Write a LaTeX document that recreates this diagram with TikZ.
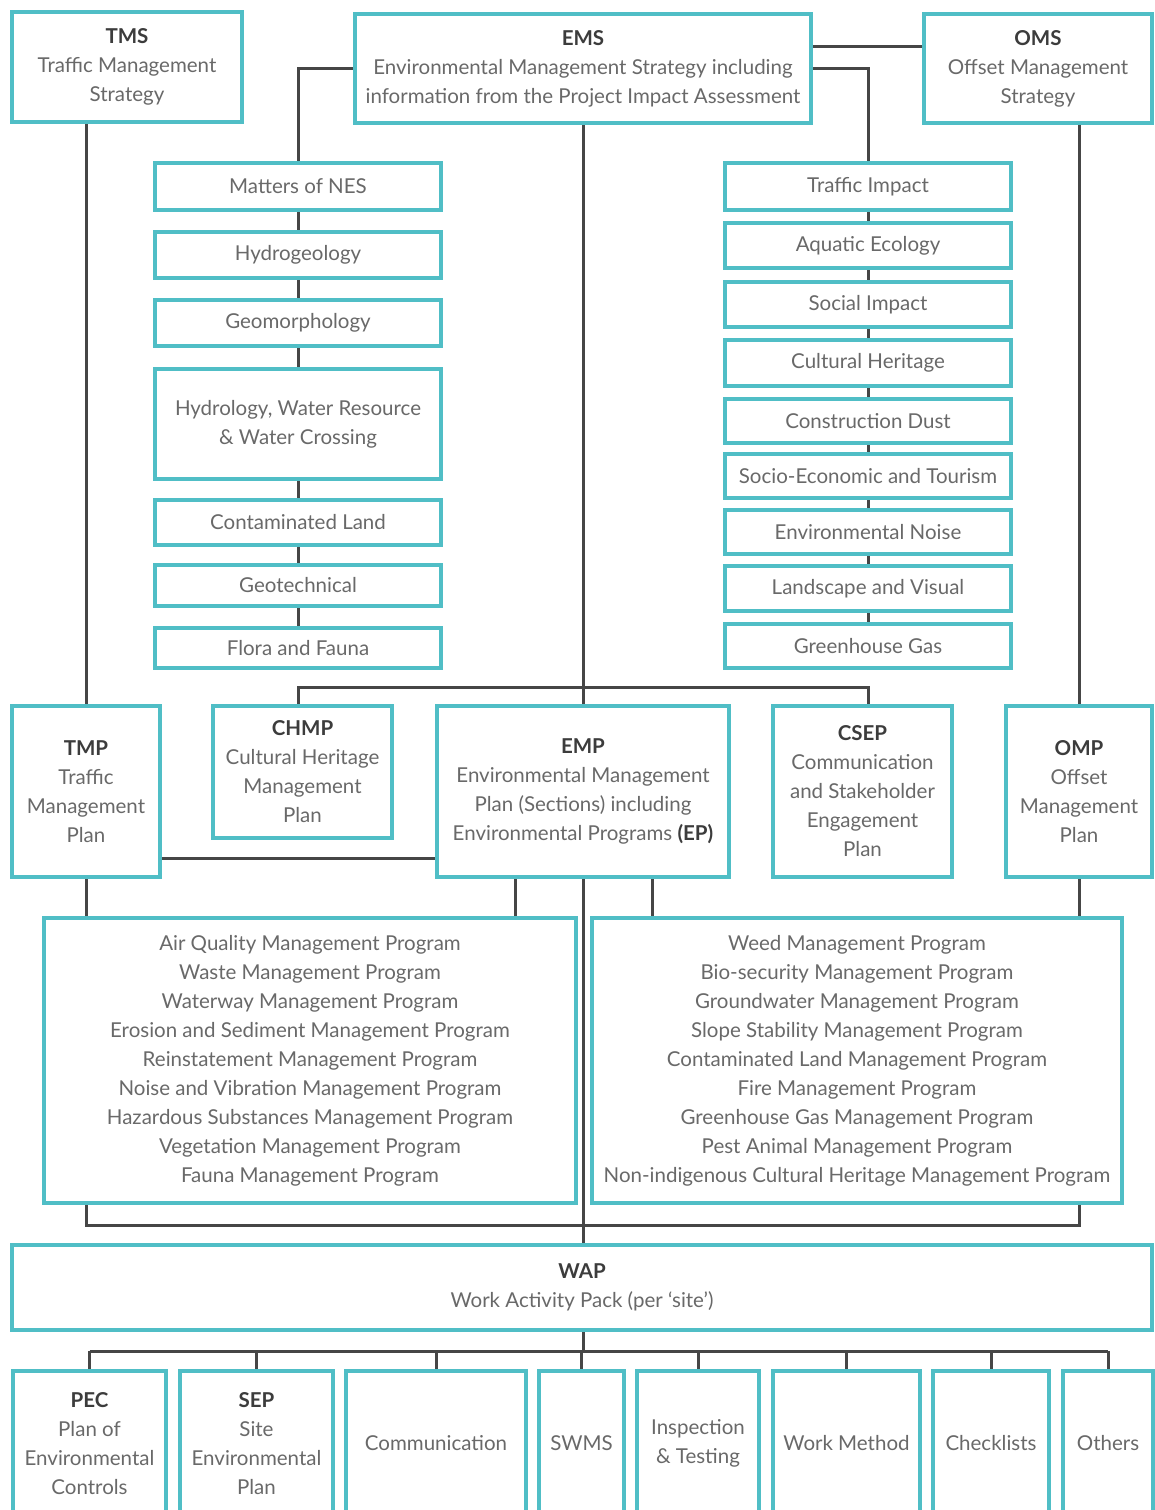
\documentclass[tikz,border=0pt]{standalone}
\usepackage{fontspec}
\setmainfont{Lato}
\usetikzlibrary{backgrounds}
\definecolor{boxteal}{RGB}{80,190,198}
\definecolor{linkgray}{RGB}{70,70,70}
\definecolor{txtgray}{RGB}{105,105,105}
\definecolor{hdgray}{RGB}{60,60,60}
\newcommand{\hd}[1]{\textcolor{hdgray}{\textbf{#1}}}

\begin{document}
\begin{tikzpicture}[x=1pt,y=-1pt,
  box/.style={draw=boxteal,line width=4.5pt,fill=white,text=txtgray,align=center,
    inner sep=0pt,font=\fontsize{20.5}{29}\selectfont},
  link/.style={draw=linkgray,line width=3pt}]
  \useasboundingbox (0,0) rectangle (1154,1510);

  % strategies
  \node[box,minimum width=230pt,minimum height=110pt] (tms) at (127,67) {\hd{TMS}\\Traffic Management\\Strategy};
  \node[box,minimum width=456pt,minimum height=109pt] (ems) at (583,68.5) {\hd{EMS}\\Environmental Management Strategy including\\information from the Project Impact Assessment};
  \node[box,minimum width=228pt,minimum height=109pt] (oms) at (1038,68.5) {\hd{OMS}\\Offset Management\\Strategy};

  % left column
  \node[box,minimum width=286pt,minimum height=47pt] (nes) at (298,186.5) {Matters of NES};
  \node[box,minimum width=286pt,minimum height=46pt] (hydrogeo) at (298,255) {Hydrogeology};
  \node[box,minimum width=286pt,minimum height=46pt] (geomorph) at (298,323) {Geomorphology};
  \node[box,minimum width=286pt,minimum height=110pt] (hydrology) at (298,424) {Hydrology, Water Resource\\\& Water Crossing};
  \node[box,minimum width=286pt,minimum height=45pt] (contam) at (298,522.5) {Contaminated Land};
  \node[box,minimum width=286pt,minimum height=41pt] (geotech) at (298,585.5) {Geotechnical};
  \node[box,minimum width=286pt,minimum height=40pt] (flora) at (298,648) {Flora and Fauna};

  % right column
  \node[box,minimum width=286pt,minimum height=47pt] (traffic) at (868,186.5) {Traffic Impact};
  \node[box,minimum width=286pt,minimum height=45pt] (aquatic) at (868,245.5) {Aquatic Ecology};
  \node[box,minimum width=286pt,minimum height=45pt] (social) at (868,304.5) {Social Impact};
  \node[box,minimum width=286pt,minimum height=46pt] (cultural) at (868,363) {Cultural Heritage};
  \node[box,minimum width=286pt,minimum height=44pt] (dust) at (868,421) {Construction Dust};
  \node[box,minimum width=286pt,minimum height=44pt] (socio) at (868,476) {Socio-Economic and Tourism};
  \node[box,minimum width=286pt,minimum height=44pt] (noise) at (868,532) {Environmental Noise};
  \node[box,minimum width=286pt,minimum height=45pt] (landscape) at (868,588.5) {Landscape and Visual};
  \node[box,minimum width=286pt,minimum height=44pt] (ghg) at (868,646) {Greenhouse Gas};

  % plans
  \node[box,minimum width=148pt,minimum height=171pt] (tmp) at (86,791.5) {\hd{TMP}\\Traffic\\Management\\Plan};
  \node[box,minimum width=179pt,minimum height=132pt] (chmp) at (302.5,772) {\hd{CHMP}\\Cultural Heritage\\Management\\Plan};
  \node[box,minimum width=292pt,minimum height=171pt] (emp) at (583,791.5) {\hd{EMP}\\Environmental Management\\Plan (Sections) including\\Environmental Programs \hd{(EP)}};
  \node[box,minimum width=179pt,minimum height=171pt] (csep) at (862.5,791.5) {\hd{CSEP}\\Communication\\and Stakeholder\\Engagement\\Plan};
  \node[box,minimum width=146pt,minimum height=171pt] (omp) at (1079,791.5) {\hd{OMP}\\Offset\\Management\\Plan};

  % programs
  \node[box,minimum width=532pt,minimum height=285pt] (progl) at (310,1060.5) {Air Quality Management Program\\Waste Management Program\\Waterway Management Program\\Erosion and Sediment Management Program\\Reinstatement Management Program\\Noise and Vibration Management Program\\Hazardous Substances Management Program\\Vegetation Management Program\\Fauna Management Program};
  \node[box,minimum width=530pt,minimum height=285pt] (progr) at (857,1060.5) {Weed Management Program\\Bio-security Management Program\\Groundwater Management Program\\Slope Stability Management Program\\Contaminated Land Management Program\\Fire Management Program\\Greenhouse Gas Management Program\\Pest Animal Management Program\\Non-indigenous Cultural Heritage Management Program};

  % work activity pack
  \node[box,minimum width=1140pt,minimum height=85pt] (wap) at (582,1287.5) {\hd{WAP}\\Work Activity Pack (per `site')};
  \node[box,minimum width=153pt,minimum height=145pt] (pec) at (89.5,1443.5) {\hd{PEC}\\Plan of\\Environmental\\Controls};
  \node[box,minimum width=153pt,minimum height=145pt] (sep) at (256.5,1443.5) {\hd{SEP}\\Site\\Environmental\\Plan};
  \node[box,minimum width=180pt,minimum height=145pt] (comm) at (436,1443.5) {Communication};
  \node[box,minimum width=85pt,minimum height=145pt] (swms) at (581.5,1443.5) {SWMS};
  \node[box,minimum width=122pt,minimum height=145pt] (insp) at (698,1443.5) {Inspection\\\& Testing};
  \node[box,minimum width=147pt,minimum height=145pt] (wm) at (846.5,1443.5) {Work Method};
  \node[box,minimum width=116pt,minimum height=145pt] (check) at (991,1443.5) {Checklists};
  \node[box,minimum width=90pt,minimum height=145pt] (others) at (1108,1443.5) {Others};

  \coordinate (barl) at (298,687);
  \coordinate (barr) at (868,687);
  \coordinate (pbar) at (583,1225);
  \coordinate (wbar) at (583,1351);

  \begin{scope}[on background layer]
   \draw[link] ([yshift=22.5pt]ems.east) -- ([yshift=22.5pt]oms.west);
   \draw[link] (ems.west) -| (nes.north);
   \draw[link] (ems.east) -| (traffic.north);
   \draw[link] (ems.south) -- (emp.north);
   \draw[link] (tmp.north |- tms.south) -- (tmp.north);
   \draw[link] (omp.north |- oms.south) -- (omp.north);
   \draw[link] (nes) -- (hydrogeo) -- (geomorph) -- (hydrology) -- (contam) -- (geotech) -- (flora);
   \draw[link] (traffic) -- (aquatic) -- (social) -- (cultural) -- (dust) -- (socio) -- (noise) -- (landscape) -- (ghg);
   \draw[link] (barl |- chmp.north) -- (barl) -- (barr) -- (barr |- csep.north);
   \draw[link] ([yshift=-66.5pt]tmp.east) -- ([yshift=-66.5pt]emp.west);
   \draw[link] (tmp.south) -- (tmp.south |- progl.north);
   \draw[link] ([xshift=-68pt]emp.south) -- ([xshift=-68pt]emp.south |- progl.north);
   \draw[link] ([xshift=69pt]emp.south) -- ([xshift=69pt]emp.south |- progr.north);
   \draw[link] (omp.south) -- (omp.south |- progr.north);
   \draw[link] (emp.south) -- (emp.south |- wap.north);
   \draw[link] (tmp.south |- progl.south) -- (tmp.south |- pbar) -- (omp.south |- pbar) -- (omp.south |- progr.south);
   \draw[link] (wbar |- wap.south) -- (wbar);
   \draw[link] (pec.north |- wbar) -- (others.north |- wbar);
   \foreach \b in {pec,sep,comm,swms,insp,wm,check,others}
     \draw[link] (\b.north |- wbar) -- (\b.north);
  \end{scope}
\end{tikzpicture}
\end{document}
